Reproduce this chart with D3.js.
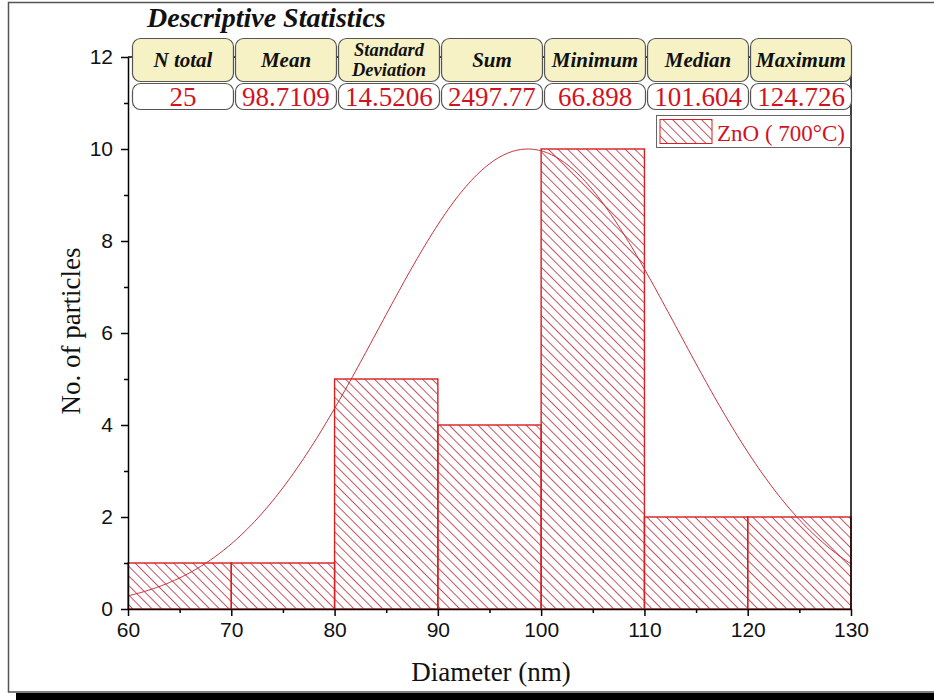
<!DOCTYPE html>
<html>
<head>
<meta charset="utf-8">
<script src="https://cdn.jsdelivr.net/npm/d3@7"></script>
<style>
  html, body { margin: 0; padding: 0; background: #fff; }
  svg { display: block; }
</style>
</head>
<body>
<svg id="chart" width="934" height="700"></svg>
<script>
// Histogram bins (nm) and particle counts
const binStarts = [60, 70, 80, 90, 100, 110, 120];
const binWidth = 10;
const counts = [1, 1, 5, 4, 10, 2, 2];

// Descriptive statistics table
const statHeaders = [["N total"], ["Mean"], ["Standard", "Deviation"], ["Sum"], ["Minimum"], ["Median"], ["Maximum"]];
const statValues = ["25", "98.7109", "14.5206", "2497.77", "66.898", "101.604", "124.726"];

// Normal fit parameters (mean, SD, peak height)
const fitMean = 98.7109;
const fitSD = 14.5206;
const fitPeak = 10;

// Axis ticks
const xTicks = [60, 70, 80, 90, 100, 110, 120, 130];
const xMinor = [65, 75, 85, 95, 105, 115, 125];
const yTicks = [0, 2, 4, 6, 8, 10, 12];
const yMinor = [1, 3, 5, 7, 9, 11];

const legendLabel = "ZnO ( 700°C)";

const svg = d3.select("#chart");
const serif = "'Liberation Serif', 'Times New Roman', serif";
const sans = "'Liberation Sans', Arial, sans-serif";
const red = "#d81e1e";
const textRed = "#d0141e";

const x = d3.scaleLinear().domain([60, 130]).range([128, 851]);
const y = d3.scaleLinear().domain([0, 12]).range([609, 57]);

// Hatch pattern
const defs = svg.append("defs");
const pat = defs.append("pattern")
  .attr("id", "hatch")
  .attr("patternUnits", "userSpaceOnUse")
  .attr("width", 6.8).attr("height", 6.8)
  .attr("patternTransform", "rotate(45)");
pat.append("line")
  .attr("x1", 0).attr("x2", 6.8).attr("y1", 3.4).attr("y2", 3.4)
  .attr("stroke", "#c24552").attr("stroke-width", 0.9);

// Page frame with drop shadow
svg.append("rect").attr("x", 16).attr("y", 693).attr("width", 930).attr("height", 10).attr("fill", "#000");
svg.append("rect").attr("x", 8.5).attr("y", 2.5).attr("width", 940).attr("height", 689.5)
  .attr("fill", "#fff").attr("stroke", "#555").attr("stroke-width", 1.5);

// Bars
svg.append("g").selectAll("rect")
  .data(binStarts.map((s, i) => ({ s, c: counts[i] })))
  .join("rect")
  .attr("x", d => x(d.s))
  .attr("width", d => x(d.s + binWidth) - x(d.s))
  .attr("y", d => y(d.c))
  .attr("height", d => y(0) - y(d.c))
  .attr("fill", "url(#hatch)")
  .attr("stroke", red)
  .attr("stroke-width", 1.4);

// Fitted normal curve
const curvePts = d3.range(60, 130.01, 0.25).map(v => [v, fitPeak * Math.exp(-((v - fitMean) ** 2) / (2 * fitSD * fitSD))]);
svg.append("path")
  .datum(curvePts)
  .attr("d", d3.line().x(d => x(d[0])).y(d => y(d[1])))
  .attr("fill", "none")
  .attr("stroke", "#c8323a")
  .attr("stroke-width", 1);

// Frame lines (right & top)
svg.append("line").attr("x1", x(130)).attr("x2", x(130)).attr("y1", y(12)).attr("y2", y(0))
  .attr("stroke", "#000").attr("stroke-width", 1.5);
svg.append("line").attr("x1", x(60)).attr("x2", x(130)).attr("y1", y(12)).attr("y2", y(12))
  .attr("stroke", "#000").attr("stroke-width", 1.5);

// X axis
svg.append("g").attr("transform", `translate(0,${y(0)})`)
  .call(d3.axisBottom(x).tickValues(xTicks).tickSize(7).tickSizeOuter(0).tickPadding(6).tickFormat(d3.format("d")));
svg.append("g").attr("transform", `translate(0,${y(0)})`)
  .call(d3.axisBottom(x).tickValues(xMinor).tickSize(4).tickSizeOuter(0).tickFormat(""))
  .select(".domain").remove();

// Y axis
svg.append("g").attr("transform", `translate(${x(60)},0)`)
  .call(d3.axisLeft(y).tickValues(yTicks).tickSize(7).tickSizeOuter(0).tickPadding(8).tickFormat(d3.format("d")));
svg.append("g").attr("transform", `translate(${x(60)},0)`)
  .call(d3.axisLeft(y).tickValues(yMinor).tickSize(4).tickSizeOuter(0).tickFormat(""))
  .select(".domain").remove();

svg.selectAll(".domain").attr("stroke", "#000").attr("stroke-width", 1.5);
svg.selectAll(".tick line").attr("stroke", "#000").attr("stroke-width", 1.5);
svg.selectAll(".tick text").attr("font-family", sans).attr("font-size", 21).attr("fill", "#111");

// Axis titles
svg.append("text").attr("x", 491).attr("y", 681).attr("text-anchor", "middle")
  .attr("font-family", serif).attr("font-size", 27).attr("fill", "#111").text("Diameter (nm)");
svg.append("text").attr("transform", "translate(80,331) rotate(-90)").attr("text-anchor", "middle")
  .attr("font-family", serif).attr("font-size", 27).attr("fill", "#111").text("No. of particles");

// Statistics table
svg.append("text").attr("x", 147).attr("y", 27)
  .attr("font-family", serif).attr("font-size", 28).attr("font-weight", "bold").attr("font-style", "italic")
  .attr("fill", "#111").text("Descriptive Statistics");

const cellX = d3.scaleBand().domain(d3.range(statHeaders.length)).range([132.5, 851.5]).paddingInner(0.02);
const hdr = svg.append("g").selectAll("g").data(statHeaders).join("g")
  .attr("transform", (d, i) => `translate(${cellX(i)},0)`);
hdr.append("rect").attr("x", 0).attr("y", 38.5).attr("width", cellX.bandwidth()).attr("height", 43)
  .attr("rx", 8).attr("fill", "#f6f2c6").attr("stroke", "#555").attr("stroke-width", 1.2);
hdr.each(function (d) {
  const w = cellX.bandwidth();
  const single = d.length === 1;
  const t = d3.select(this).append("text")
    .attr("text-anchor", "middle")
    .attr("font-family", serif).attr("font-size", single ? 21 : 18.5)
    .attr("font-weight", "bold").attr("font-style", "italic")
    .attr("fill", "#111");
  d.forEach((line, k) => {
    t.append("tspan").attr("x", w / 2).attr("y", single ? 67 : 55.5 + k * 20.6).text(line);
  });
});

const vals = svg.append("g").selectAll("g").data(statValues).join("g")
  .attr("transform", (d, i) => `translate(${cellX(i)},0)`);
vals.append("rect").attr("x", 0).attr("y", 83.5).attr("width", cellX.bandwidth()).attr("height", 26)
  .attr("rx", 8).attr("fill", "#fff").attr("stroke", "#555").attr("stroke-width", 1.2);
vals.append("text").attr("x", cellX.bandwidth() / 2).attr("y", 105.5).attr("text-anchor", "middle")
  .attr("font-family", serif).attr("font-size", 27).attr("fill", textRed).text(d => d);

// Legend
const lg = svg.append("g");
lg.append("rect").attr("x", 656.5).attr("y", 115.5).attr("width", 194).attr("height", 32)
  .attr("fill", "#fff").attr("stroke", "#666").attr("stroke-width", 1);
lg.append("rect").attr("x", 660).attr("y", 119.5).attr("width", 52).attr("height", 24)
  .attr("fill", "url(#hatch)").attr("stroke", red).attr("stroke-width", 1);
lg.append("text").attr("x", 717).attr("y", 141).attr("font-family", serif).attr("font-size", 23)
  .attr("fill", textRed).text(legendLabel);
</script>
</body>
</html>
